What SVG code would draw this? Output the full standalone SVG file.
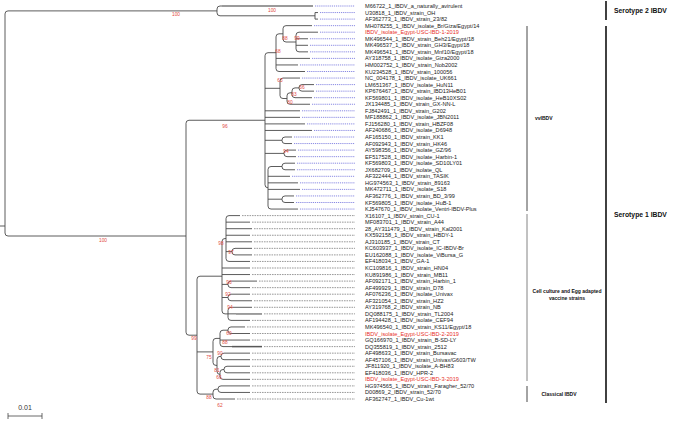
<svg xmlns="http://www.w3.org/2000/svg" width="676" height="428" viewBox="0 0 676 428">
<style>
.br{fill:none;stroke:#4a4a4a;stroke-width:0.9}
.hl{fill:none;stroke:#9a9a9a;stroke-width:1.8}
.dotb{fill:none;stroke:#3b3bd0;stroke-width:0.6;stroke-dasharray:1.2 0.9}
.dotg{fill:none;stroke:#555;stroke-width:0.6;stroke-dasharray:1.6 0.9}
.tl{font-family:"Liberation Sans",Arial,sans-serif;font-size:5.6px;fill:#222;dominant-baseline:central}
.red{fill:#e8302a}
.bs{font-family:"Liberation Sans",Arial,sans-serif;font-size:4.8px;fill:#e24a3f;text-anchor:middle}
.grp{font-family:"Liberation Sans",Arial,sans-serif;font-weight:bold;fill:#111}
</style>
<rect width="676" height="428" fill="#fff"/>
<g id="connectors">
<path class="br" d="M0,226 H5 M217,10.9 H8 Q5,10.9 5,13.9 V233 Q5,236 8,236 H186"/>
<path class="br" d="M313,6 H220 Q217,6 217,9 V12.8 Q217,15.8 220,15.8 H315 M318,12.55 H315 V19.1 H318"/>
<path class="hl" d="M222,6 H313"/>
<path class="br" d="M265,120.25 H189 Q186,120.25 186,123.25 V332.2 Q186,335.2 189,335.2 H197"/>
<path class="br" d="M276,52.7 H268 Q265,52.7 265,55.7 V184.8 Q265,187.8 268,187.8 M265,88.3 H280 M265,110.8 H300 M265,117.35 H300 M265,123.9 H305 M265,130.45 H312 M265,140.3 H282 M265,153.4 H284"/>
<path class="br" d="M283,33.8 H279 Q276,33.8 276,36.8 V68.5 Q276,71.5 279,71.5 H305 M276,58.4 H310 M276,64.95 H298"/>
<path class="br" d="M312,25.65 H286 Q283,25.65 283,28.65 V39 Q283,42 286,42 H296"/>
<path class="br" d="M318,32.2 H299 Q296,32.2 296,35.2 V48.85 Q296,51.85 299,51.85 H308 M296,38.75 H308 M296,45.3 H308"/>
<path class="br" d="M300,78.05 H283 Q280,78.05 280,81.05 V95.5 Q280,98.5 283,98.5 H287"/>
<path class="br" d="M292,92.8 H290 Q287,92.8 287,95.8 V101.25 Q287,104.25 290,104.25 H310"/>
<path class="br" d="M299,87.9 H295 Q292,87.9 292,90.9 V94.7 Q292,97.7 295,97.7 H312"/>
<path class="br" d="M314,84.6 H302 Q299,84.6 299,87.6 V88.15 Q299,91.15 302,91.15 H314"/>
<path class="br" d="M292,137 H285 Q282,137 282,140 V140.55 Q282,143.55 285,143.55 H292"/>
<path class="br" d="M296,150.1 H287 Q284,150.1 284,153.1 V153.65 Q284,156.65 287,156.65 H296"/>
<path class="br" d="M282,166.5 H271 Q268,166.5 268,169.5 V206.05 Q268,209.05 271,209.05 H298 M268,176.3 H290 M268,182.85 H298 M268,189.4 H300 M268,199.2 H282"/>
<path class="br" d="M295,163.2 H285 Q282,163.2 282,166.2 V166.75 Q282,169.75 285,169.75 H295"/>
<path class="br" d="M294,195.95 H285 Q282,195.95 282,198.95 V199.5 Q282,202.5 285,202.5 H294"/>
<path class="br" d="M222,276.2 H200 Q197,276.2 197,279.2 V391.1 Q197,394.1 200,394.1 H213 M197,351.9 H213"/>
<path class="br" d="M226,238.5 H225 Q222,238.5 222,241.5 V310.9 Q222,313.9 225,313.9 H228 M222,268 H250 M222,274.55 H250 M222,284.4 H228 M222,297.5 H228"/>
<path class="br" d="M240,215.6 H229 Q226,215.6 226,218.6 V258.45 Q226,261.45 229,261.45 H250 M226,222.15 H250 M226,228.7 H252 M226,235.25 H250 M226,241.8 H252 M226,251.6 H232"/>
<path class="br" d="M252,248.35 H235 Q232,248.35 232,251.35 V251.9 Q232,254.9 235,254.9 H252"/>
<path class="br" d="M257,281.1 H231 Q228,281.1 228,284.1 V284.65 Q228,287.65 231,287.65 H250"/>
<path class="br" d="M250,294.2 H231 Q228,294.2 228,297.2 V297.75 Q228,300.75 231,300.75 H252"/>
<path class="br" d="M252,307.3 H231 Q228,307.3 228,310.3 V317.4 Q228,320.4 231,320.4 H250 M228,313.85 H262"/>
<path class="hl" d="M236,313.85 H262 M232,346.6 H262"/>
<path class="br" d="M220,338.4 H216 Q213,338.4 213,341.4 V362.4 Q213,365.4 216,365.4 H217"/>
<path class="br" d="M228,330.2 H223 Q220,330.2 220,333.2 V343.6 Q220,346.6 223,346.6 H262 M220,340.05 H250"/>
<path class="br" d="M245,326.95 H231 Q228,326.95 228,329.95 V330.5 Q228,333.5 231,333.5 H250"/>
<path class="br" d="M221,356.4 H220 Q217,356.4 217,359.4 V371.4 Q217,374.4 220,374.4"/>
<path class="br" d="M250,353.15 H224 Q221,353.15 221,356.15 V356.7 Q221,359.7 224,359.7 H250"/>
<path class="br" d="M224,369.5 H223 Q220,369.5 220,372.5 V376.35 Q220,379.35 223,379.35 H250"/>
<path class="br" d="M250,366.25 H227 Q224,366.25 224,369.25 V369.8 Q224,372.8 227,372.8 H250"/>
<path class="br" d="M218,389.2 H216 Q213,389.2 213,392.2 V396 Q213,399 216,399 H235"/>
<path class="br" d="M250,385.9 H221 Q218,385.9 218,388.9 V389.45 Q218,392.45 221,392.45 H250"/>
<path class="dotb" d="M315,6H355M320,12.55H355M320,19.1H355M314,25.65H355M320,32.2H355M310,38.75H355M310,45.3H355M310,51.85H355M312,58.4H355M300,64.95H355M307,71.5H355M302,78.05H355M316,84.6H355M316,91.15H355M314,97.7H355M312,104.25H355M302,110.8H355M302,117.35H355M307,123.9H355M314,130.45H355M294,137H355M294,143.55H355M298,150.1H355M298,156.65H355M297,163.2H355M297,169.75H355M292,176.3H355M300,182.85H355M302,189.4H355M296,195.95H355M296,202.5H355M300,209.05H355"/>
<path class="dotg" d="M242,215.6H355M252,222.15H355M254,228.7H355M252,235.25H355M254,241.8H355M254,248.35H355M254,254.9H355M252,261.45H355M252,268H355M252,274.55H355M259,281.1H355M252,287.65H355M252,294.2H355M254,300.75H355M254,307.3H355M264,313.85H355M252,320.4H355M247,326.95H355M252,333.5H355M252,340.05H355M264,346.6H355M252,353.15H355M252,359.7H355M252,366.25H355M252,372.8H355M252,379.35H355M252,385.9H355M252,392.45H355M237,399H355"/>
</g>
<g id="support">
<text class="bs" x="176" y="16">100</text>
<text class="bs" x="272" y="11.5">100</text>
<text class="bs" x="285" y="40">88</text>
<text class="bs" x="297" y="40">99</text>
<text class="bs" x="278" y="53">68</text>
<text class="bs" x="280" y="82">63</text>
<text class="bs" x="302" y="89">66</text>
<text class="bs" x="294" y="96">83</text>
<text class="bs" x="290" y="104">80</text>
<text class="bs" x="286" y="153">94</text>
<text class="bs" x="225" y="128">96</text>
<text class="bs" x="103" y="242">100</text>
<text class="bs" x="221" y="245">98</text>
<text class="bs" x="231" y="254">97</text>
<text class="bs" x="229" y="284">96</text>
<text class="bs" x="228" y="296">92</text>
<text class="bs" x="230" y="309">94</text>
<text class="bs" x="229" y="335">60</text>
<text class="bs" x="194" y="340">99</text>
<text class="bs" x="225" y="344">88</text>
<text class="bs" x="220" y="355">90</text>
<text class="bs" x="209" y="359">75</text>
<text class="bs" x="217" y="372">81</text>
<text class="bs" x="219" y="379">66</text>
<text class="bs" x="209" y="399">88</text>
<text class="bs" x="220" y="407">62</text>
</g>
<g id="tips">
<text id="t1" class="tl" x="365" y="6">M66722_1_IBDV_a_naturally_avirulent</text>
<text id="t2" class="tl" x="365" y="12.55">U30818_1_IBDV_strain_OH</text>
<text id="t3" class="tl" x="365" y="19.1">AF362773_1_IBDV_strain_23/82</text>
<text id="t4" class="tl" x="365" y="25.65">MH078255_1_IBDV_isolate_Br/Giza/Egypt/14</text>
<text id="t5" class="tl red" x="365" y="32.2">IBDV_isolate_Egypt-USC-IBD-1-2019</text>
<text id="t6" class="tl" x="365" y="38.75">MK496544_1_IBDV_strain_Beh21/Egypt/18</text>
<text id="t7" class="tl" x="365" y="45.3">MK496537_1_IBDV_strain_GH3/Egypt/18</text>
<text id="t8" class="tl" x="365" y="51.85">MK496541_1_IBDV_strain_Mnf10/Egypt/18</text>
<text id="t9" class="tl" x="365" y="58.4">AY318758_1_IBDV_isolate_Giza2000</text>
<text id="t10" class="tl" x="365" y="64.95">HM002752_1_IBDV_strain_Nob2002</text>
<text id="t11" class="tl" x="365" y="71.5">KU234528_1_IBDV_strain_100056</text>
<text id="t12" class="tl" x="365" y="78.05">NC_004178_1_IBDV_isolate_UK661</text>
<text id="t13" class="tl" x="365" y="84.6">LM651367_1_IBDV_isolate_HuN11</text>
<text id="t14" class="tl" x="365" y="91.15">KP676467_1_IBDV_strain_IBD13HeB01</text>
<text id="t15" class="tl" x="365" y="97.7">KF569801_1_IBDV_isolate_HeB10XS02</text>
<text id="t16" class="tl" x="365" y="104.25">JX134485_1_IBDV_strain_GX-NN-L</text>
<text id="t17" class="tl" x="365" y="110.8">FJ842491_1_IBDV_strain_G202</text>
<text id="t18" class="tl" x="365" y="117.35">MF188862_1_IBDV_isolate_JBN2011</text>
<text id="t19" class="tl" x="365" y="123.9">FJ156280_1_IBDV_strain_HBZF08</text>
<text id="t20" class="tl" x="365" y="130.45">AF240686_1_IBDV_isolate_D6948</text>
<text id="t21" class="tl" x="365" y="137">AF165150_1_IBDV_strain_KK1</text>
<text id="t22" class="tl" x="365" y="143.55">AF092943_1_IBDV_strain_HK46</text>
<text id="t23" class="tl" x="365" y="150.1">AY598356_1_IBDV_isolate_GZ/96</text>
<text id="t24" class="tl" x="365" y="156.65">EF517528_1_IBDV_isolate_Harbin-1</text>
<text id="t25" class="tl" x="365" y="163.2">KF569803_1_IBDV_isolate_SD10LY01</text>
<text id="t26" class="tl" x="365" y="169.75">JX682709_1_IBDV_isolate_QL</text>
<text id="t27" class="tl" x="365" y="176.3">AF322444_1_IBDV_strain_TASIK</text>
<text id="t28" class="tl" x="365" y="182.85">HG974563_1_IBDV_strain_89163</text>
<text id="t29" class="tl" x="365" y="189.4">MK472711_1_IBDV_isolate_S18</text>
<text id="t30" class="tl" x="365" y="195.95">AF362776_1_IBDV_strain_BD_3/99</text>
<text id="t31" class="tl" x="365" y="202.5">KF569805_1_IBDV_isolate_HuB-1</text>
<text id="t32" class="tl" x="365" y="209.05">KJ547670_1_IBDV_isolate_Ventri-IBDV-Plus</text>
<text id="t33" class="tl" x="365" y="215.6">X16107_1_IBDV_strain_CU-1</text>
<text id="t34" class="tl" x="365" y="222.15">MF083701_1_IBDV_strain_A44</text>
<text id="t35" class="tl" x="365" y="228.7">28_AY311479_1_IBDV_strain_Kal2001</text>
<text id="t36" class="tl" x="365" y="235.25">KX592158_1_IBDV_strain_HBDY-1</text>
<text id="t37" class="tl" x="365" y="241.8">AJ310185_1_IBDV_strain_CT</text>
<text id="t38" class="tl" x="365" y="248.35">KC603937_1_IBDV_isolate_IC-IBDV-Br</text>
<text id="t39" class="tl" x="365" y="254.9">EU162088_1_IBDV_isolate_ViBursa_G</text>
<text id="t40" class="tl" x="365" y="261.45">EF418034_1_IBDV_GA-1</text>
<text id="t41" class="tl" x="365" y="268">KC109816_1_IBDV_strain_HN04</text>
<text id="t42" class="tl" x="365" y="274.55">KU891986_1_IBDV_strain_MB11</text>
<text id="t43" class="tl" x="365" y="281.1">AF092171_1_IBDV_strain_Harbin_1</text>
<text id="t44" class="tl" x="365" y="287.65">AF499929_1_IBDV_strain_D78</text>
<text id="t45" class="tl" x="365" y="294.2">AF076236_1_IBDV_isolate_Univax</text>
<text id="t46" class="tl" x="365" y="300.75">AF321054_1_IBDV_strain_HZ2</text>
<text id="t47" class="tl" x="365" y="307.3">AY319768_2_IBDV_strain_NB</text>
<text id="t48" class="tl" x="365" y="313.85">DQ088175_1_IBDV_strain_TL2004</text>
<text id="t49" class="tl" x="365" y="320.4">AF194428_1_IBDV_isolate_CEF94</text>
<text id="t50" class="tl" x="365" y="326.95">MK496540_1_IBDV_strain_KS11/Egypt/18</text>
<text id="t51" class="tl red" x="365" y="333.5">IBDV_isolate_Egypt-USC-IBD-2-2019</text>
<text id="t52" class="tl" x="365" y="340.05">GQ166970_1_IBDV_strain_B-SD-LY</text>
<text id="t53" class="tl" x="365" y="346.6">DQ355819_1_IBDV_strain_2512</text>
<text id="t54" class="tl" x="365" y="353.15">AF498633_1_IBDV_strain_Bursavac</text>
<text id="t55" class="tl" x="365" y="359.7">AF457106_1_IBDV_strain_Univax/G603/TW</text>
<text id="t56" class="tl" x="365" y="366.25">JF811920_1_IBDV_isolate_A-BH83</text>
<text id="t57" class="tl" x="365" y="372.8">EF418036_1_IBDV_HPR-2</text>
<text id="t58" class="tl red" x="365" y="379.35">IBDV_isolate_Egypt-USC-IBD-3-2019</text>
<text id="t59" class="tl" x="365" y="385.9">HG974565_1_IBDV_strain_Faragher_52/70</text>
<text id="t60" class="tl" x="365" y="392.45">D00869_2_IBDV_strain_52/70</text>
<text id="t61" class="tl" x="365" y="399">AF362747_1_IBDV_Cu-1wt</text>
</g>
<g id="group-serotype2">
<path d="M606,1 V20" stroke="#111" stroke-width="1.6"/>
<text class="grp" x="614" y="13" font-size="6.8">Serotype 2 IBDV</text>
</g>
<g id="group-serotype1">
<path d="M606,26 V403" stroke="#111" stroke-width="1.6"/>
<text class="grp" x="614" y="217" font-size="6.8">Serotype 1 IBDV</text>
</g>
<g id="group-vv">
<path d="M527,26 V211" stroke="#333" stroke-width="0.9"/>
<text class="grp" x="535" y="119.5" font-size="5">vvIBDV</text>
</g>
<g id="group-vaccine">
<path d="M527,214 V381" stroke="#777" stroke-width="0.9"/>
<text class="grp" x="567" y="292.5" font-size="5" text-anchor="middle">Cell culture and Egg adapted</text>
<text class="grp" x="567" y="299.5" font-size="5" text-anchor="middle">vaccine strains</text>
</g>
<g id="group-classical">
<path d="M527,386 V402" stroke="#333" stroke-width="0.9"/>
<text class="grp" x="559" y="395.5" font-size="5" text-anchor="middle">Classical IBDV</text>
</g>
<g id="scale">
<path d="M8,416 H42 M8,413 V419 M42,413 V419" fill="none" stroke="#444" stroke-width="0.8"/>
<text x="25" y="410" font-family="Liberation Sans, Arial, sans-serif" font-size="7" fill="#333" text-anchor="middle">0.01</text>
</g>
</svg>
